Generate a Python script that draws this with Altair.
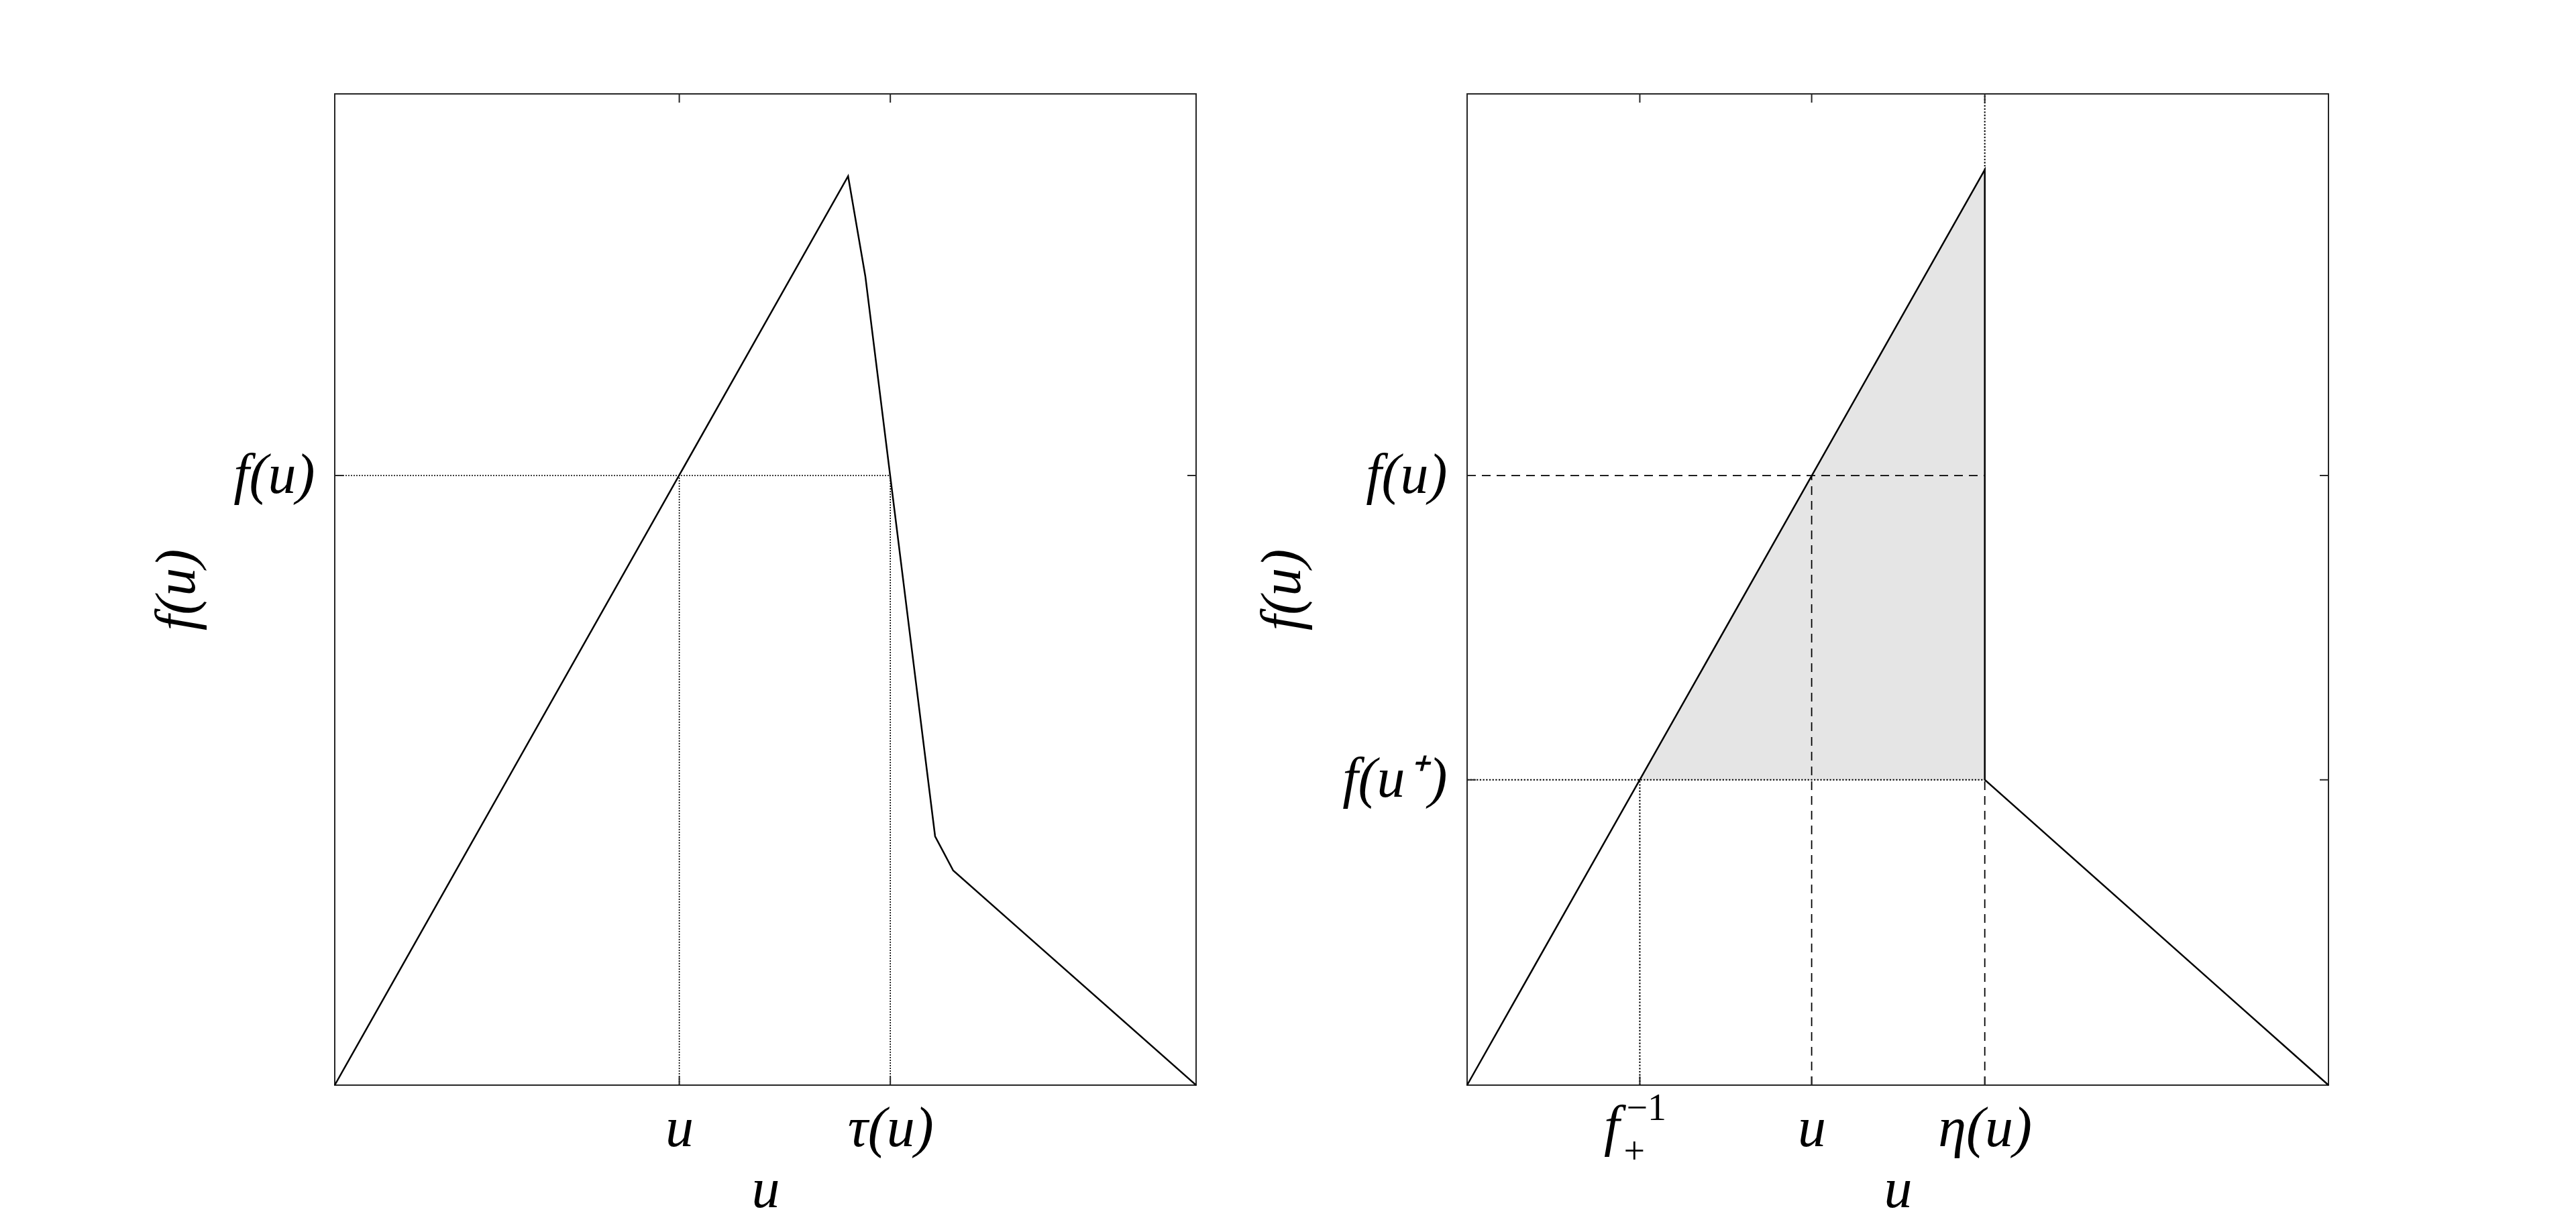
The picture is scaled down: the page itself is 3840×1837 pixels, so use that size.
import altair as alt
import pandas as pd

# ---------------- data ----------------
# left panel: f(u) curve
left_x = [0.0, 0.596, 0.616, 0.697, 0.718, 1.0]
left_y = [0.0, 0.917, 0.816, 0.251, 0.2165, 0.0]
left_u = 0.4
left_fu = 0.615
left_tau = 0.645

# right panel: f(u) curve with jump at eta(u)
right_x = [0.0, 0.601, 0.601, 1.0]
right_y = [0.0, 0.9235, 0.308, 0.0]
right_finv = 0.2005
right_u = 0.4
right_fu = 0.615
right_fup = 0.308
right_eta = 0.601
right_peak = 0.9235

left_xticks = [left_u, left_tau]
left_xlabels = ["u", "τ(u)"]
left_yticks = [left_fu]
left_ylabels = ["f(u)"]
right_xticks = [right_finv, right_u, right_eta]
right_xlabels = ["", "u", "η(u)"]
right_yticks = [right_fup, right_fu]
right_ylabels = ["f(u⁺\u200a)", "f(u)"]

# ---------------- styling ----------------
W, H = 1284, 1478
FONT = "Liberation Serif"
FS = 84
TICK = 13
AX = "#262626"


def label_expr(vals, labels):
    expr = "''"
    for v, l in reversed(list(zip(vals, labels))):
        expr = f"datum.value == {v} ? '{l}' : ({expr})"
    return expr


def panel(xs_vals, ys_vals, xticks, xlabels, yticks, ylabels, ytitle_x, extra_layers):
    xsc = alt.Scale(domain=[0, 1], nice=False, zero=False)
    ysc = alt.Scale(domain=[0, 1], nice=False, zero=False)
    xaxis = alt.Axis(values=xticks, labelExpr=label_expr(xticks, xlabels), title="u",
                     ticks=False, tickSize=0, domain=False, grid=False,
                     labelFont=FONT, labelFontSize=FS, labelFontStyle="italic", labelColor="black",
                     labelPadding=24, labelFlush=False, labelOverlap=False, labelBound=False,
                     titleFont=FONT, titleFontSize=FS, titleFontStyle="italic", titleFontWeight="normal",
                     titleColor="black", titleBaseline="alphabetic", titleY=181)
    yaxis = alt.Axis(values=yticks, labelExpr=label_expr(yticks, ylabels), title="f(u)",
                     ticks=False, tickSize=0, domain=False, grid=False,
                     labelFont=FONT, labelFontSize=FS, labelFontStyle="italic", labelColor="black",
                     labelPadding=30, labelFlush=False, labelOverlap=False, labelBound=False,
                     labelBaseline="middle",
                     titleFont=FONT, titleFontSize=FS, titleFontStyle="italic", titleFontWeight="normal",
                     titleColor="black", titleBaseline="alphabetic", titleX=ytitle_x)

    def X(f="x"):
        return alt.X(f"{f}:Q", scale=xsc, axis=xaxis)

    def Y(f="y"):
        return alt.Y(f"{f}:Q", scale=ysc, axis=yaxis)

    layers = []
    layers += extra_layers(X, Y)

    curve = pd.DataFrame({"x": xs_vals, "y": ys_vals, "i": list(range(len(xs_vals)))})
    layers.append(alt.Chart(curve).mark_line(color="black", strokeWidth=2.5).encode(
        x=X(), y=Y(), order="i:Q"))

    # inward tick marks on all four sides
    xt = pd.DataFrame({"x": xticks})
    yt = pd.DataFrame({"y": yticks})
    tk = dict(color=AX, strokeWidth=2)
    layers.append(alt.Chart(xt).mark_rule(**tk).encode(x=X(), y=alt.value(H), y2=alt.value(H - TICK)))
    layers.append(alt.Chart(xt).mark_rule(**tk).encode(x=X(), y=alt.value(0), y2=alt.value(TICK)))
    layers.append(alt.Chart(yt).mark_rule(**tk).encode(y=Y(), x=alt.value(0), x2=alt.value(TICK)))
    layers.append(alt.Chart(yt).mark_rule(**tk).encode(y=Y(), x=alt.value(W - TICK), x2=alt.value(W)))

    return alt.layer(*layers).properties(width=W, height=H)


LDOT = [2, 2]
RDOT = [2.3, 2.4]
DASH = [13, 9]


def left_extra(X, Y):
    h = pd.DataFrame({"y": [left_fu], "x": [0.0], "x2": [left_tau]})
    v = pd.DataFrame({"x": [left_u, left_tau], "y": [0.0, 0.0], "y2": [left_fu, left_fu]})
    st = dict(color="black", strokeWidth=1.6, strokeDash=LDOT)
    return [
        alt.Chart(h).mark_rule(**st).encode(x=X(), x2="x2:Q", y=Y()),
        alt.Chart(v).mark_rule(**st).encode(x=X(), y=Y(), y2="y2:Q"),
    ]


def right_extra(X, Y):
    area = pd.DataFrame({"x": [right_finv, right_eta], "y": [right_fup, right_peak],
                         "y2": [right_fup, right_fup]})
    dot_h = pd.DataFrame({"y": [right_fup], "x": [0.0], "x2": [right_eta]})
    dash_h = pd.DataFrame({"y": [right_fu], "x": [0.0], "x2": [right_eta]})
    dot_v = pd.DataFrame({"x": [right_finv, right_eta], "y": [0.0, right_peak], "y2": [right_fup, 1.0]})
    dash_v = pd.DataFrame({"x": [right_u, right_eta], "y": [0.0, 0.0], "y2": [right_fu, right_fup]})
    dot = dict(color="black", strokeWidth=2, strokeDash=RDOT)
    dash = dict(color="black", strokeWidth=1.8, strokeDash=DASH)
    lab = pd.DataFrame({"x": [right_finv]})
    txt = dict(font=FONT, color="black", baseline="alphabetic")
    return [
        alt.Chart(area).mark_area(color="#e5e5e5", opacity=1).encode(x=X(), y=Y(), y2="y2:Q"),
        alt.Chart(dot_h).mark_rule(**dot).encode(x=X(), x2="x2:Q", y=Y()),
        alt.Chart(dash_h).mark_rule(**dash).encode(x=X(), x2="x2:Q", y=Y()),
        alt.Chart(dot_v).mark_rule(**dot).encode(x=X(), y=Y(), y2="y2:Q"),
        alt.Chart(dash_v).mark_rule(**dash).encode(x=X(), y=Y(), y2="y2:Q"),
        # composite tick label f_+^{-1}
        alt.Chart(lab).mark_text(text="f", align="right", dx=-30, fontSize=FS, fontStyle="italic", **txt)
        .encode(x=X(), y=alt.value(H + 89)),
        alt.Chart(lab).mark_text(text="−1", align="left", dx=-20, fontSize=56, **txt)
        .encode(x=X(), y=alt.value(H + 52)),
        alt.Chart(lab).mark_text(text="+", align="left", dx=-24, fontSize=56, **txt)
        .encode(x=X(), y=alt.value(H + 117)),
    ]


left = panel(left_x, left_y, left_xticks, left_xlabels, left_yticks, left_ylabels, -210, left_extra)
right = panel(right_x, right_y, right_xticks, right_xlabels, right_yticks, right_ylabels, -250, right_extra)

chart = alt.hconcat(left, right, spacing=80).properties(
    padding={"left": 213, "top": 130, "right": 5, "bottom": 5},
    background="white",
).configure_view(stroke=AX, strokeWidth=2)

chart.save("out.html", embed_options={"renderer": "svg", "actions": False})
